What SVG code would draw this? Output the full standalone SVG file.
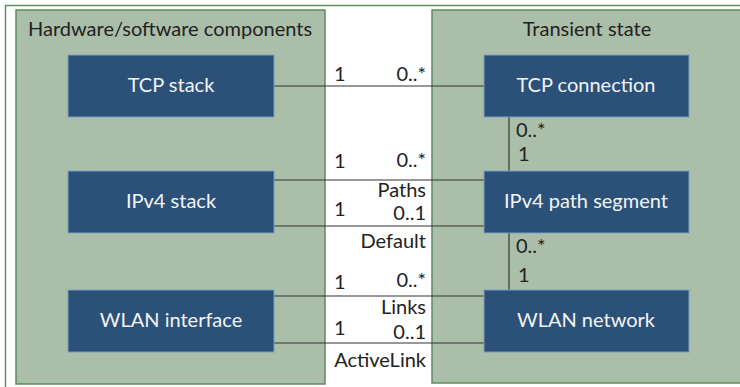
<svg xmlns="http://www.w3.org/2000/svg" width="740" height="387" viewBox="0 0 740 387">
<style>
.frame{fill:#ffffff;stroke:#5f8f62;stroke-width:1.5}
.panel{fill:#abbea9;stroke:#5f8a60;stroke-width:1.5}
.box{fill:#2c5178;stroke:#7b9dc4;stroke-width:1}
.bt{font-family:Lato,"Liberation Sans",sans-serif;font-size:20px;fill:#f2f4f6;text-anchor:middle}
.ttl{font-family:Lato,"Liberation Sans",sans-serif;font-size:20px;fill:#222222}
.lbl{font-family:Lato,"Liberation Sans",sans-serif;font-size:20px;fill:#222222}
.end{text-anchor:end}
.conn line{stroke:#333333;stroke-width:1.2}
</style>
<rect width="740" height="387" fill="#ffffff"/>
<rect class="frame" x="5.5" y="5.5" width="745" height="390"/>
<g id="panel-hw">
<rect class="panel" x="16" y="10" width="309" height="374"/>
<text class="ttl" x="28" y="36">Hardware/software components</text>
</g>
<g id="panel-transient">
<rect class="panel" x="432" y="10" width="320" height="373"/>
<text class="ttl" x="587" y="36" text-anchor="middle">Transient state</text>
</g>
<g class="conn" id="connectors">
<line x1="274" y1="86" x2="484" y2="86"/>
<line x1="274" y1="180" x2="484" y2="180"/>
<line x1="274" y1="226" x2="484" y2="226"/>
<line x1="274" y1="296" x2="484" y2="296"/>
<line x1="274" y1="343" x2="484" y2="343"/>
<line x1="509" y1="117" x2="509" y2="171"/>
<line x1="509" y1="233" x2="509" y2="290"/>
</g>
<g id="labels">
<text class="lbl" x="334" y="81">1</text>
<text class="lbl end" x="426" y="81">0..*</text>
<text class="lbl" x="334" y="168">1</text>
<text class="lbl end" x="426" y="167">0..*</text>
<text class="lbl end" x="426" y="197">Paths</text>
<text class="lbl" x="334" y="216">1</text>
<text class="lbl end" x="426" y="220">0..1</text>
<text class="lbl end" x="426" y="248">Default</text>
<text class="lbl" x="334" y="289">1</text>
<text class="lbl end" x="426" y="287">0..*</text>
<text class="lbl end" x="426" y="314">Links</text>
<text class="lbl" x="334" y="335">1</text>
<text class="lbl end" x="426" y="339">0..1</text>
<text class="lbl end" x="426" y="367">ActiveLink</text>
<text class="lbl" x="516" y="137">0..*</text>
<text class="lbl" x="518" y="161">1</text>
<text class="lbl" x="516" y="253">0..*</text>
<text class="lbl" x="518" y="282">1</text>
</g>
<g id="tcp-stack">
<rect class="box" x="68" y="55" width="206" height="62"/>
<text class="bt" x="171" y="92">TCP stack</text>
</g>
<g id="ipv4-stack">
<rect class="box" x="68" y="171" width="206" height="62"/>
<text class="bt" x="171" y="208">IPv4 stack</text>
</g>
<g id="wlan-interface">
<rect class="box" x="68" y="290" width="206" height="62"/>
<text class="bt" x="171" y="327">WLAN interface</text>
</g>
<g id="tcp-connection">
<rect class="box" x="484" y="55" width="205" height="62"/>
<text class="bt" x="586" y="92">TCP connection</text>
</g>
<g id="ipv4-path-segment">
<rect class="box" x="484" y="171" width="205" height="62"/>
<text class="bt" x="586" y="208">IPv4 path segment</text>
</g>
<g id="wlan-network">
<rect class="box" x="484" y="290" width="205" height="62"/>
<text class="bt" x="586" y="327">WLAN network</text>
</g>
</svg>
